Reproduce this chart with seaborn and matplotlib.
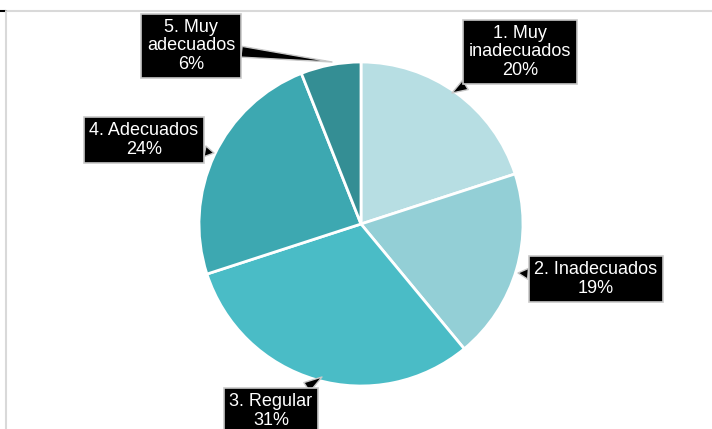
import seaborn as sns
import matplotlib.pyplot as plt
from matplotlib.lines import Line2D

# categories and shares (%)
categories = ['1. Muy\ninadecuados', '2. Inadecuados', '3. Regular', '4. Adecuados', '5. Muy\nadecuados']
shares = [20, 19, 31, 24, 6]
colors = ['#b7dee3', '#93cfd6', '#4abcc6', '#3da8b1', '#348e94']

sns.set_theme(style="white")
plt.rcParams['font.family'] = ['Liberation Sans', 'DejaVu Sans']

W, H = 712, 429
fig = plt.figure(figsize=(W / 100, H / 100), dpi=100)
ax = fig.add_axes([0, 0, 1, 1])

cx, cy, r = 361, H - 224, 162
wedges, _ = ax.pie(shares, colors=colors, startangle=90, counterclock=False,
                   center=(cx, cy), radius=r, frame=True,
                   wedgeprops=dict(edgecolor='white', linewidth=2))
ax.set_xlim(0, W)
ax.set_ylim(0, H)
ax.axis('off')

# label box centre and pointer tip in pixel coords (y from top)
label_pos = [(520, 52), (596, 279), (271, 411), (144, 140), (191, 46)]
tips = [(452, 93), (518, 273), (322, 377), (214, 153), (332, 62)]

for cat, val, (tx, ty), (px, py) in zip(categories, shares, label_pos, tips):
    ax.annotate(f"{cat}\n{val}%", xy=(px, H - py), xytext=(tx, H - ty),
                ha='center', va='center', color='white', fontsize=13,
                linespacing=1.08,
                bbox=dict(boxstyle='square,pad=0.32', fc='black', ec='#c8c8c8', lw=1.2),
                arrowprops=dict(arrowstyle='wedge,tail_width=0.6,shrink_factor=0.5',
                                fc='black', ec='#c8c8c8', lw=1, shrinkA=0, shrinkB=0),
                annotation_clip=False)

# frame lines from the original chart area
fig.add_artist(Line2D([6 / W, 1], [1 - 11 / H] * 2, color='#d9d9d9', lw=1.5))
fig.add_artist(Line2D([0, 6 / W], [1 - 11 / H] * 2, color='black', lw=1.5))
fig.add_artist(Line2D([6 / W] * 2, [0, 1 - 11 / H], color='#d9d9d9', lw=1.5))

fig.savefig('out.png', dpi=100)
